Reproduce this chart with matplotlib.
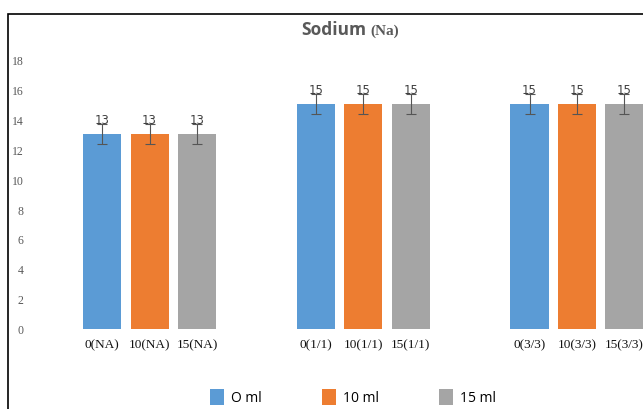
import matplotlib.pyplot as plt
from matplotlib.patches import Rectangle
import numpy as np

# Donnees du graphique
series = ["O ml", "10 ml", "15 ml"]
groupes = ["NA", "1/1", "3/3"]
doses = ["0", "10", "15"]
valeurs = [
    [13, 15, 15],  # 0 ml
    [13, 15, 15],  # 10 ml
    [13, 15, 15],  # 15 ml
]
erreurs = [0.65, 0.65, 0.65]
couleurs = ["#5B9BD5", "#ED7D31", "#A5A5A5"]

W, H = 643, 410
fig = plt.figure(figsize=(W / 100, H / 100), dpi=100)

# Axes en coordonnees pixel
ax_l, ax_r, ax_b, ax_t = 40, 643, 330, 45
ax = fig.add_axes([ax_l / W, 1 - ax_b / H, (ax_r - ax_l) / W, (ax_b - ax_t) / H])

pas = 47.5
x0 = 102
ax.set_xlim((ax_l - x0) / pas, (ax_r - x0) / pas)
ax.set_ylim(0, (ax_b - ax_t) / 15)

largeur = 0.8
positions = []
etiquettes = []
for s in range(len(series)):
    xs = np.arange(len(groupes)) * 4.5 + s
    ax.bar(xs, valeurs[s], width=largeur, color=couleurs[s], label=series[s])
    ax.errorbar(xs, valeurs[s], yerr=erreurs[s], fmt="none", ecolor="#555555",
                elinewidth=0.8, capsize=3.5, capthick=0.8)
    for x, v in zip(xs, valeurs[s]):
        ax.text(x, v + 0.95, str(v), ha="center", va="center", fontsize=8.5,
                color="#404040", family="DejaVu Sans")
    for g, x in zip(groupes, xs):
        positions.append(x)
        etiquettes.append(f"{doses[s]}({g})")

ax.set_xticks(positions)
ax.set_xticklabels(etiquettes, family="Liberation Serif", fontsize=9.5, color="#111111")
ax.set_yticks(range(0, 19, 2))
ax.tick_params(axis="y", labelsize=8.5, labelcolor="#595959", length=0, pad=12)
for lab in ax.get_yticklabels():
    lab.set_family("Liberation Serif")
ax.tick_params(axis="x", length=0, pad=7)
for sp in ax.spines.values():
    sp.set_visible(False)

# Titre en deux polices
fig.text(366 / W, 1 - 30 / H, "Sodium", ha="right", va="center", fontsize=12.5,
         fontweight="bold", color="#595959", family="Open Sans")
fig.text(370 / W, 1 - 31 / H, "(Na)", ha="left", va="center", fontsize=11,
         fontweight="bold", color="#595959", family="Liberation Serif")

# Legende
fig.legend(loc="center", bbox_to_anchor=(353 / W, 1 - 398 / H), ncol=3, frameon=False,
           handlelength=1.0, handleheight=1.45, handletextpad=0.55, columnspacing=4.3,
           prop={"family": "Open Sans", "size": 10})

# Cadre du graphique
fig.patches.append(Rectangle((8 / W, -0.1), 1.2, 1 - 15 / H + 0.1, transform=fig.transFigure,
                             fill=False, edgecolor="black", linewidth=1.2))

fig.savefig("out.png", dpi=100)
